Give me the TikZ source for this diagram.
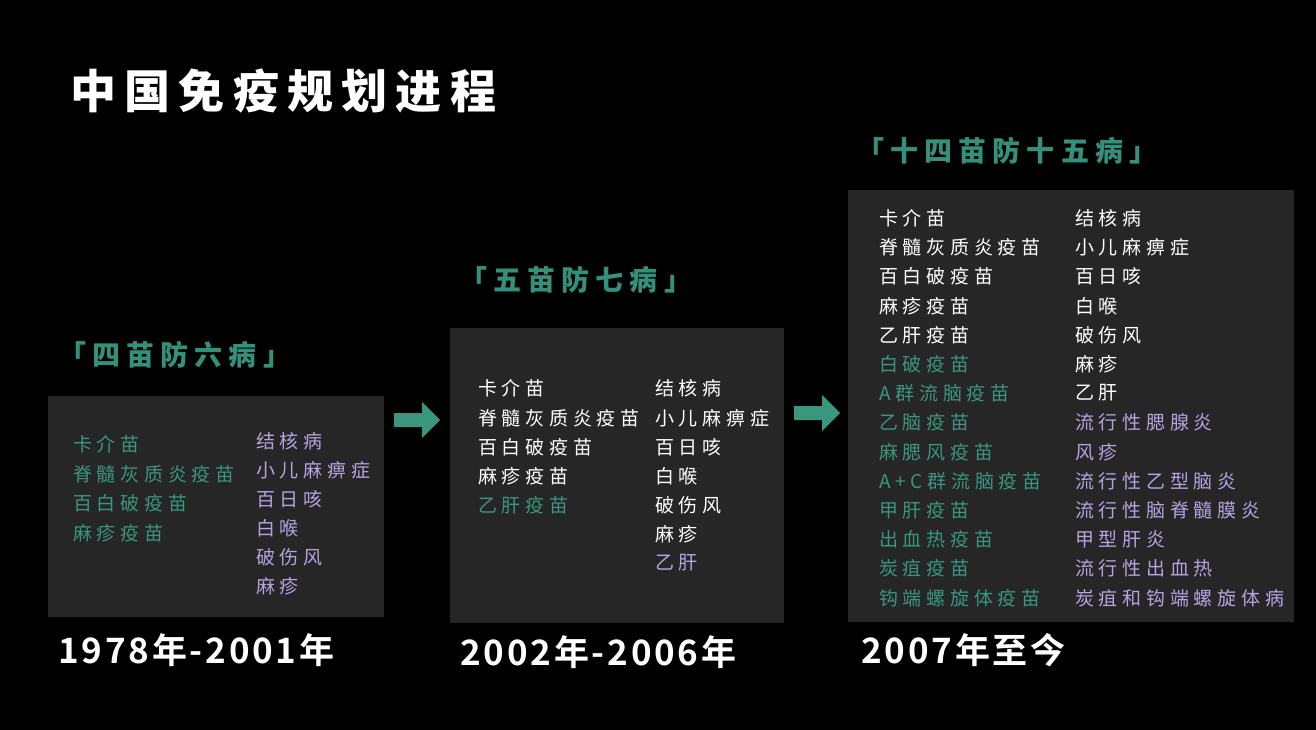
\documentclass[tikz,border=0pt]{standalone}
\usepackage{fontspec}
\setmainfont{Noto Sans CJK SC}
\newfontfamily\bodyfont[LetterSpace=25]{Noto Sans CJK SC}
\newfontfamily\headfont[LetterSpace=18]{Noto Sans CJK SC Black}
\newfontfamily\subfont[LetterSpace=22]{Noto Sans CJK SC Black}
\newfontfamily\yearfont[LetterSpace=8]{Noto Sans CJK SC Bold}
\definecolor{bgc}{HTML}{000000}
\definecolor{boxc}{HTML}{262626}
\definecolor{grn}{HTML}{3A967D}
\definecolor{ttl}{HTML}{33907A}
\definecolor{prp}{HTML}{B4A4E2}
\tikzset{
  panel/.style={fill=boxc, draw=none},
  item/.style={anchor=west, inner sep=0pt, font=\bodyfont\fontsize{19}{19}\selectfont},
  wt/.style={item, text=white},
  gt/.style={item, text=grn},
  pt/.style={item, text=prp},
  subtl/.style={anchor=west, inner sep=0pt, text=ttl, font=\subfont\fontsize{28}{28}\selectfont},
  yr/.style={anchor=west, inner sep=0pt, text=white, font=\yearfont\fontsize{35}{35}\selectfont},
  blockarrow/.style={fill=grn, draw=none}
}
\begin{document}
\begin{tikzpicture}[x=1pt,y=-1pt]
\fill[bgc] (0,0) rectangle (1316,730);
\useasboundingbox (0,0) rectangle (1316,730);
% title
\node[anchor=west, inner sep=0pt, text=white, font=\headfont\fontsize{46}{46}\selectfont] (title) at (70,91) {中国免疫规划进程};
% panels
\node[panel, minimum width=336pt, minimum height=221pt, anchor=north west] (p1) at (48,396) {};
\node[panel, minimum width=334pt, minimum height=295pt, anchor=north west] (p2) at (450,328) {};
\node[panel, minimum width=446pt, minimum height=432pt, anchor=north west] (p3) at (848,190) {};
% subtitles
\node[subtl] (s1) at (58,355) {「四苗防六病」};
\node[subtl] (s2) at (459,280) {「五苗防七病」};
\node[subtl] (s3) at (856,151) {「十四苗防十五病」};
% years
\node[yr] (y1) at (58,650) {1978年-2001年};
\node[yr] (y2) at (460,652) {2002年-2006年};
\node[yr] (y3) at (861,650) {2007年至今};
% arrows
\fill[blockarrow] (394,413) -- (422,413) -- (422,402) -- (440,420) -- (422,438) -- (422,427) -- (394,427) -- cycle;
\fill[blockarrow] (794,406) -- (822,406) -- (822,395) -- (840,413) -- (822,431) -- (822,420) -- (794,420) -- cycle;
% panel 1
\node[gt] (a1) at (73,444) {卡介苗};
\node[gt] (a2) at (73,474) {脊髓灰质炎疫苗};
\node[gt] (a3) at (73,503) {百白破疫苗};
\node[gt] (a4) at (73,533) {麻疹疫苗};
\node[pt] (b1) at (256,441) {结核病};
\node[pt] (b2) at (256,470) {小儿麻痹症};
\node[pt] (b3) at (256,499) {百日咳};
\node[pt] (b4) at (256,528) {白喉};
\node[pt] (b5) at (256,557) {破伤风};
\node[pt] (b6) at (256,586) {麻疹};
% panel 2
\node[wt] (c1) at (478,388) {卡介苗};
\node[wt] (c2) at (478,418) {脊髓灰质炎疫苗};
\node[wt] (c3) at (478,447) {百白破疫苗};
\node[wt] (c4) at (478,476) {麻疹疫苗};
\node[gt] (c5) at (478,505) {乙肝疫苗};
\node[wt] (d1) at (655,388) {结核病};
\node[wt] (d2) at (655,418) {小儿麻痹症};
\node[wt] (d3) at (655,447) {百日咳};
\node[wt] (d4) at (655,476) {白喉};
\node[wt] (d5) at (655,505) {破伤风};
\node[wt] (d6) at (655,534) {麻疹};
\node[pt] (d7) at (655,563) {乙肝};
% panel 3
\node[wt] (e1) at (879,218) {卡介苗};
\node[wt] (e2) at (879,247) {脊髓灰质炎疫苗};
\node[wt] (e3) at (879,276) {百白破疫苗};
\node[wt] (e4) at (879,306) {麻疹疫苗};
\node[wt] (e5) at (879,335) {乙肝疫苗};
\node[gt] (e6) at (879,364) {白破疫苗};
\node[gt] (e7) at (879,393) {A群流脑疫苗};
\node[gt] (e8) at (879,422) {乙脑疫苗};
\node[gt] (e9) at (879,452) {麻腮风疫苗};
\node[gt] (e10) at (879,481) {A+C群流脑疫苗};
\node[gt] (e11) at (879,510) {甲肝疫苗};
\node[gt] (e12) at (879,539) {出血热疫苗};
\node[gt] (e13) at (879,568) {炭疽疫苗};
\node[gt] (e14) at (879,598) {钩端螺旋体疫苗};
\node[wt] (f1) at (1075,218) {结核病};
\node[wt] (f2) at (1075,247) {小儿麻痹症};
\node[wt] (f3) at (1075,276) {百日咳};
\node[wt] (f4) at (1075,306) {白喉};
\node[wt] (f5) at (1075,335) {破伤风};
\node[wt] (f6) at (1075,364) {麻疹};
\node[wt] (f7) at (1075,393) {乙肝};
\node[pt] (f8) at (1075,422) {流行性腮腺炎};
\node[pt] (f9) at (1075,452) {风疹};
\node[pt] (f10) at (1075,481) {流行性乙型脑炎};
\node[pt] (f11) at (1075,510) {流行性脑脊髓膜炎};
\node[pt] (f12) at (1075,539) {甲型肝炎};
\node[pt] (f13) at (1075,568) {流行性出血热};
\node[pt] (f14) at (1075,598) {炭疽和钩端螺旋体病};
\end{tikzpicture}
\end{document}
